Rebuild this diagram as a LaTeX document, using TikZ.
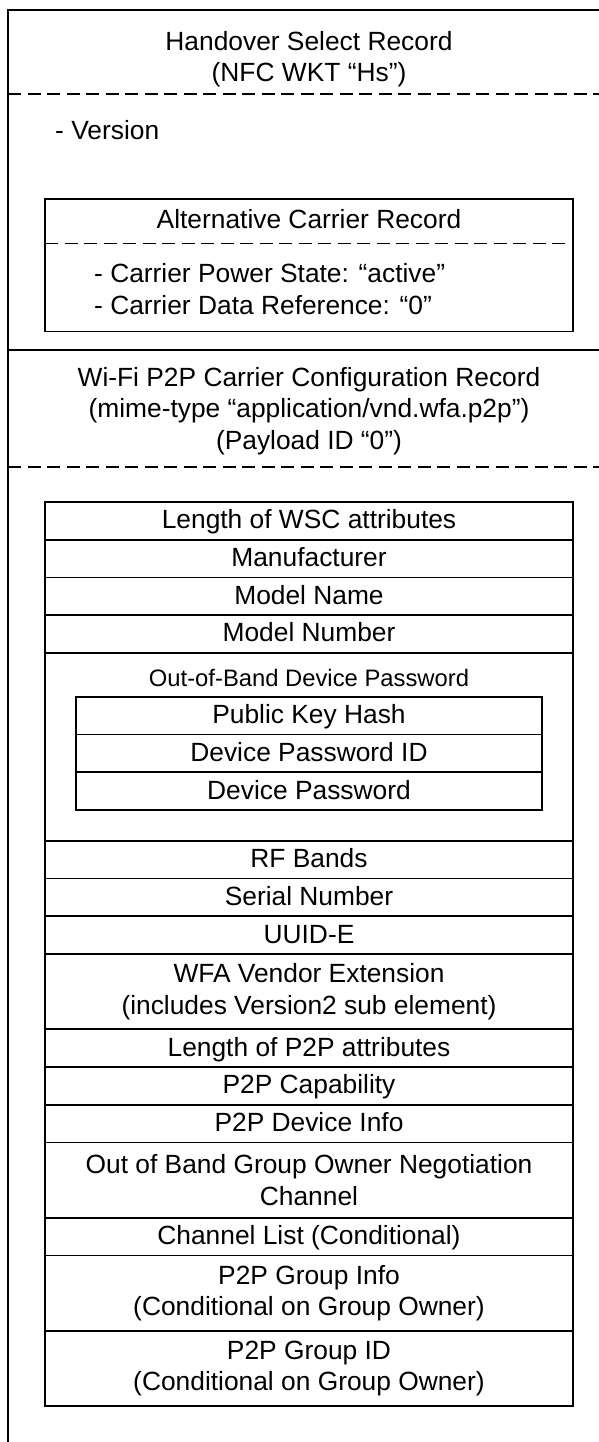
\documentclass[tikz,border=0pt]{standalone}
\usepackage{fontspec}
\setmainfont{Liberation Sans}
\usetikzlibrary{positioning}

\newcommand{\bigtxt}{\fontsize{26.35}{31.5}\selectfont}
\newcommand{\smalltxt}{\fontsize{23.8}{28}\selectfont}

\tikzset{
  outer/.style={line width=2pt},
  sep/.style={line width=2pt, dash pattern=on 13pt off 6.5pt},
  cell/.style={draw, line width=1.7pt, inner sep=0pt, outer sep=0pt,
    minimum width=528pt, font=\bigtxt},
  field/.style={cell, minimum height=37.7pt, text height=20pt, text depth=4pt},
  twofield/.style={cell, minimum height=75.4pt, align=center},
  subfield/.style={field, minimum width=466pt},
  txt/.style={inner sep=0pt, font=\bigtxt}
}

\begin{document}
\begin{tikzpicture}[x=1pt, y=-1pt]
    \useasboundingbox (0,0) rectangle (599,1442);

    % Handover Select record
    \draw[outer] (599,10) -- (8,10) -- (8,1442);
    \node[txt, align=center, anchor=north] (hs) at (309,31) {Handover Select Record\\(NFC WKT “Hs”)};
    \draw[sep] (8,94) -- (599,94);
    \node[txt, anchor=base west] (ver) at (55,140) {- Version};

    % Alternative Carrier record
    \node[cell, minimum height=132.5pt, anchor=north west] (acr) at (45,199) {};
    \node[txt, anchor=base] (acrname) at (309,229) {Alternative Carrier Record};
    \draw[sep, line width=1.7pt] ([yshift=-44.5pt]acr.north west) -- ([yshift=-44.5pt]acr.north east);
    \node[txt, anchor=base west] (cps) at (94,282) {- Carrier Power State: “active”};
    \node[txt, anchor=base west] (cdr) at (94,314) {- Carrier Data Reference: “0”};

    % Wi-Fi P2P carrier configuration record
    \draw[outer] (8,350) -- (599,350);
    \node[txt, align=center, anchor=north] (p2p) at (309,367) {Wi-Fi P2P Carrier Configuration Record\\(mime-type “application/vnd.wfa.p2p”)\\(Payload ID “0”)};
    \draw[sep] (8,467) -- (599,467);

    % WSC attributes
    \node[field, anchor=north west] (wsclen) at (45,502) {Length of WSC attributes};
    \node[field, below=0pt of wsclen] (manu) {Manufacturer};
    \node[field, below=0pt of manu] (mname) {Model Name};
    \node[field, below=0pt of mname] (mnum) {Model Number};
    \node[cell, minimum height=188pt, below=0pt of mnum] (oob) {};
    \node[txt, font=\smalltxt, anchor=base] (oobname) at ([yshift=-33.7pt]oob.north) {Out-of-Band Device Password};
    \node[subfield, below=44pt of oob.north] (pkh) {Public Key Hash};
    \node[subfield, below=0pt of pkh] (pwid) {Device Password ID};
    \node[subfield, below=0pt of pwid] (pw) {Device Password};
    \node[field, below=0pt of oob] (rf) {RF Bands};
    \node[field, below=0pt of rf] (serial) {Serial Number};
    \node[field, below=0pt of serial] (uuid) {UUID-E};
    \node[twofield, below=0pt of uuid] (wfa) {WFA Vendor Extension\\(includes Version2 sub element)};

    % P2P attributes
    \node[field, below=0pt of wfa] (p2plen) {Length of P2P attributes};
    \node[field, below=0pt of p2plen] (cap) {P2P Capability};
    \node[field, below=0pt of cap] (devinfo) {P2P Device Info};
    \node[twofield, below=0pt of devinfo] (gochan) {Out of Band Group Owner Negotiation\\Channel};
    \node[field, below=0pt of gochan] (chlist) {Channel List (Conditional)};
    \node[twofield, below=0pt of chlist] (ginfo) {P2P Group Info\\(Conditional on Group Owner)};
    \node[twofield, below=0pt of ginfo] (gid) {P2P Group ID\\(Conditional on Group Owner)};
\end{tikzpicture}
\end{document}
